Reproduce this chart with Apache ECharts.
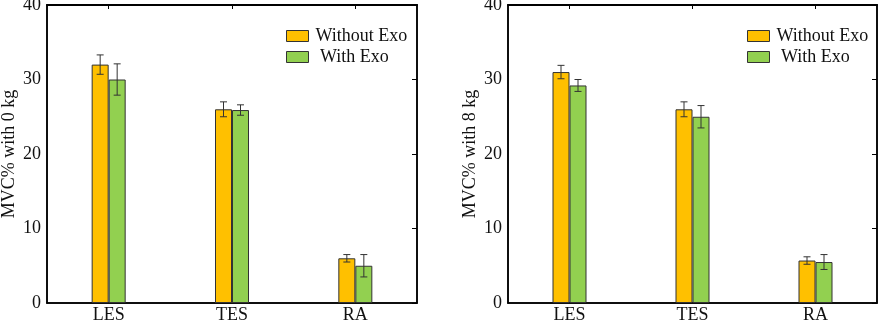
<!DOCTYPE html>
<html>
<head>
<meta charset="utf-8">
<script src="https://cdn.jsdelivr.net/npm/echarts@6/dist/echarts.min.js"></script>
<style>
  html, body { margin: 0; padding: 0; background: #fff; }
  #main { width: 879px; height: 324px; }
</style>
</head>
<body>
<div id="main"></div>
<script>
const categories = ['LES', 'TES', 'RA'];

// left panel: 0 kg
const without0 = [32, 26, 6];
const without0Err = [1.3, 1.0, 0.5];
const with0 = [30, 25.9, 5];
const with0Err = [2.1, 0.7, 1.5];

// right panel: 8 kg
const without8 = [31, 26, 5.7];
const without8Err = [0.9, 1.0, 0.5];
const with8 = [29.2, 25, 5.5];
const with8Err = [0.8, 1.5, 1.0];

const FONT = 'Liberation Serif';
const YELLOW = '#ffc000';
const GREEN = '#92d050';
const BAR_W = 17;

function errSeries(name, vals, errs, xi, yi, offset) {
  return {
    type: 'custom',
    name: name + ' err',
    xAxisIndex: xi,
    yAxisIndex: yi,
    z: 10,
    data: vals.map(function (v, i) { return [i, v - errs[i], v + errs[i]]; }),
    renderItem: function (params, api) {
      const lo = api.coord([api.value(0), api.value(1)]);
      const hi = api.coord([api.value(0), api.value(2)]);
      const x = lo[0] + offset;
      const cap = 3.5;
      const st = { stroke: '#333', lineWidth: 1 };
      return {
        type: 'group',
        children: [
          { type: 'line', shape: { x1: x, y1: lo[1], x2: x, y2: hi[1] }, style: st },
          { type: 'line', shape: { x1: x - cap, y1: lo[1], x2: x + cap, y2: lo[1] }, style: st },
          { type: 'line', shape: { x1: x - cap, y1: hi[1], x2: x + cap, y2: hi[1] }, style: st }
        ]
      };
    }
  };
}

function barSeries(name, vals, color, xi, yi) {
  return {
    type: 'bar',
    name: name,
    xAxisIndex: xi,
    yAxisIndex: yi,
    data: vals,
    barWidth: BAR_W,
    barGap: '0%',
    itemStyle: { color: color, borderColor: '#333', borderWidth: 1 }
  };
}

function xAxes(gi) {
  return [
    {
      type: 'category', gridIndex: gi, data: categories, position: 'bottom',
      axisLine: { onZero: false, lineStyle: { color: '#000', width: 1.5 } },
      axisTick: { show: false },
      axisLabel: { fontFamily: FONT, fontSize: 18, color: '#111', margin: 3 }
    },
    {
      type: 'category', gridIndex: gi, data: categories, position: 'top',
      axisLine: { show: true, onZero: false, lineStyle: { color: '#000', width: 2 } },
      axisTick: { show: true, inside: true, alignWithLabel: true, length: 4, lineStyle: { color: '#000' } },
      axisLabel: { show: false }
    }
  ];
}

function yAxes(gi, title) {
  return [
    {
      type: 'value', gridIndex: gi, min: 0, max: 40, interval: 10, position: 'left',
      name: title, nameLocation: 'middle', nameGap: 29,
      nameTextStyle: { fontFamily: FONT, fontSize: 18, color: '#111' },
      axisLine: { show: true, onZero: false, lineStyle: { color: '#000', width: 1.5 } },
      axisTick: { show: false },
      splitLine: { show: false },
      axisLabel: { fontFamily: FONT, fontSize: 18, color: '#111', margin: 6 }
    },
    {
      type: 'value', gridIndex: gi, min: 0, max: 40, interval: 10, position: 'right',
      axisLine: { show: true, onZero: false, lineStyle: { color: '#000', width: 1.5 } },
      axisTick: { show: true, inside: true, length: 5, lineStyle: { color: '#000' } },
      splitLine: { show: false },
      axisLabel: { show: false }
    }
  ];
}

const chart = echarts.init(document.getElementById('main'));

const legendStyle = {
  orient: 'vertical',
  itemWidth: 22,
  itemHeight: 11,
  itemGap: 3,
  textStyle: { fontFamily: FONT, fontSize: 18, color: '#111', padding: [0, 0, 0, 2] },
  formatter: function (name) { return name === 'With Exo' ? ' ' + name : name; },
  data: [
    { name: 'Without Exo', icon: 'rect', itemStyle: { color: YELLOW, borderColor: '#333', borderWidth: 1 } },
    { name: 'With Exo', icon: 'rect', itemStyle: { color: GREEN, borderColor: '#333', borderWidth: 1 } }
  ]
};

const option = {
  animation: false,
  backgroundColor: '#fff',
  grid: [
    { left: 47, right: 462, top: 5, bottom: 21, outerBoundsMode: 'none',
      show: true, borderColor: '#000', borderWidth: 1.5, backgroundColor: 'transparent' },
    { left: 508, right: 2, top: 5, bottom: 21, outerBoundsMode: 'none',
      show: true, borderColor: '#000', borderWidth: 1.5, backgroundColor: 'transparent' }
  ],
  legend: [
    Object.assign({ left: 281, top: 22 }, legendStyle),
    Object.assign({ left: 742, top: 22 }, legendStyle)
  ],
  xAxis: xAxes(0).concat(xAxes(1)),
  yAxis: yAxes(0, 'MVC% with 0 kg').concat(yAxes(1, 'MVC% with 8 kg')),
  series: [
    barSeries('Without Exo', without0, YELLOW, 0, 0),
    barSeries('With Exo', with0, GREEN, 0, 0),
    errSeries('Without Exo', without0, without0Err, 0, 0, -BAR_W / 2),
    errSeries('With Exo', with0, with0Err, 0, 0, BAR_W / 2),
    barSeries('Without Exo', without8, YELLOW, 2, 2),
    barSeries('With Exo', with8, GREEN, 2, 2),
    errSeries('Without Exo', without8, without8Err, 2, 2, -BAR_W / 2),
    errSeries('With Exo', with8, with8Err, 2, 2, BAR_W / 2)
  ]
};

option && chart.setOption(option);
</script>
</body>
</html>
